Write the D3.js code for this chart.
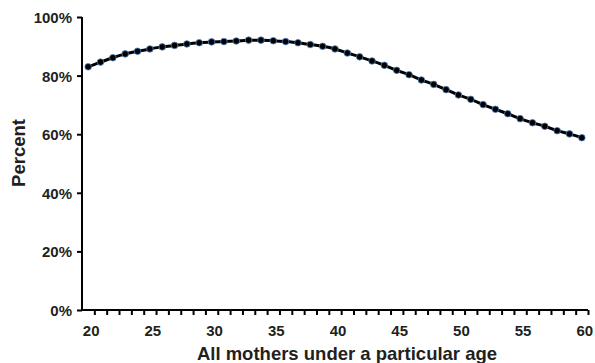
<!DOCTYPE html>
<html>
<head>
<meta charset="utf-8">
<script src="https://cdn.jsdelivr.net/npm/d3@7"></script>
<style>
  html, body { margin: 0; padding: 0; background: #fff; }
  svg { display: block; }
  text { font-family: "Liberation Sans", Arial, sans-serif; font-weight: bold; fill: #231f20; }
</style>
</head>
<body>
<svg id="chart" width="595" height="363"></svg>
<script>
const ages = d3.range(20, 61);
const percents = [
  83.0, 84.6, 86.1, 87.4, 88.3, 89.1, 89.8, 90.3, 90.8, 91.2,
  91.5, 91.6, 91.8, 92.1, 92.1, 91.9, 91.6, 91.2, 90.6, 90.0,
  89.1, 87.7, 86.4, 85.0, 83.5, 81.8, 80.3, 78.5, 77.0, 75.2,
  73.4, 71.9, 70.1, 68.5, 67.0, 65.3, 63.9, 62.7, 61.2, 60.1, 58.8
];
const xTickLabels = [20, 25, 30, 35, 40, 45, 50, 55, 60];
const xMinorTicks = d3.range(20.5, 60.6, 1);
const yTickLabels = [0, 20, 40, 60, 80, 100];

const data = ages.map((a, i) => ({ age: a, pct: percents[i] }));

const svg = d3.select("#chart");
const mLeft = 82, mRight = 588, mTop = 17, mBottom = 310;

const x = d3.scaleLinear().domain([19.5, 60.5]).range([mLeft, mRight]);
const y = d3.scaleLinear().domain([0, 100]).range([mBottom, mTop]);

// Y axis
const yAxis = svg.append("g").attr("transform", `translate(${mLeft},0)`)
  .call(d3.axisLeft(y).tickValues(yTickLabels).tickFormat(d => d + "%").tickSize(5).tickPadding(5));
yAxis.select(".domain").attr("stroke", "#000").attr("stroke-width", 2).attr("d", `M0,${mTop}V${mBottom}`);
yAxis.selectAll(".tick line").attr("stroke", "#000").attr("stroke-width", 2);
yAxis.selectAll(".tick text").style("font-size", "15px").attr("dy", "0.36em").attr("fill", "#231f20");

// X axis: minor ticks at half-integers, labels without ticks
const xAxis = svg.append("g").attr("transform", `translate(0,${mBottom})`)
  .call(d3.axisBottom(x).tickValues(xMinorTicks).tickFormat("").tickSize(5));
xAxis.select(".domain").attr("stroke", "#000").attr("stroke-width", 2).attr("d", `M${mLeft},0H${mRight}`);
xAxis.selectAll(".tick line").attr("stroke", "#000").attr("stroke-width", 2);

svg.append("g").selectAll("text").data(xTickLabels).join("text")
  .attr("x", d => x(d) + 3).attr("y", 336)
  .attr("text-anchor", "middle").style("font-size", "15px")
  .text(d => d);

// Line
const line = d3.line().x(d => x(d.age)).y(d => y(d.pct)).curve(d3.curveMonotoneX);
svg.append("path").datum(data)
  .attr("fill", "none").attr("stroke", "#000").attr("stroke-width", 3)
  .attr("d", line);

// Markers
svg.append("g").selectAll("circle").data(data).join("circle")
  .attr("cx", d => x(d.age)).attr("cy", d => y(d.pct)).attr("r", 3.3)
  .attr("fill", "#000").attr("stroke", "#4f86c6").attr("stroke-width", 0.8);

// Axis titles
svg.append("text").attr("x", 347).attr("y", 360)
  .attr("text-anchor", "middle").style("font-size", "18.5px")
  .text("All mothers under a particular age");

svg.append("text")
  .attr("transform", `translate(25,153) rotate(-90)`)
  .attr("text-anchor", "middle").style("font-size", "18.5px")
  .text("Percent");
</script>
</body>
</html>
